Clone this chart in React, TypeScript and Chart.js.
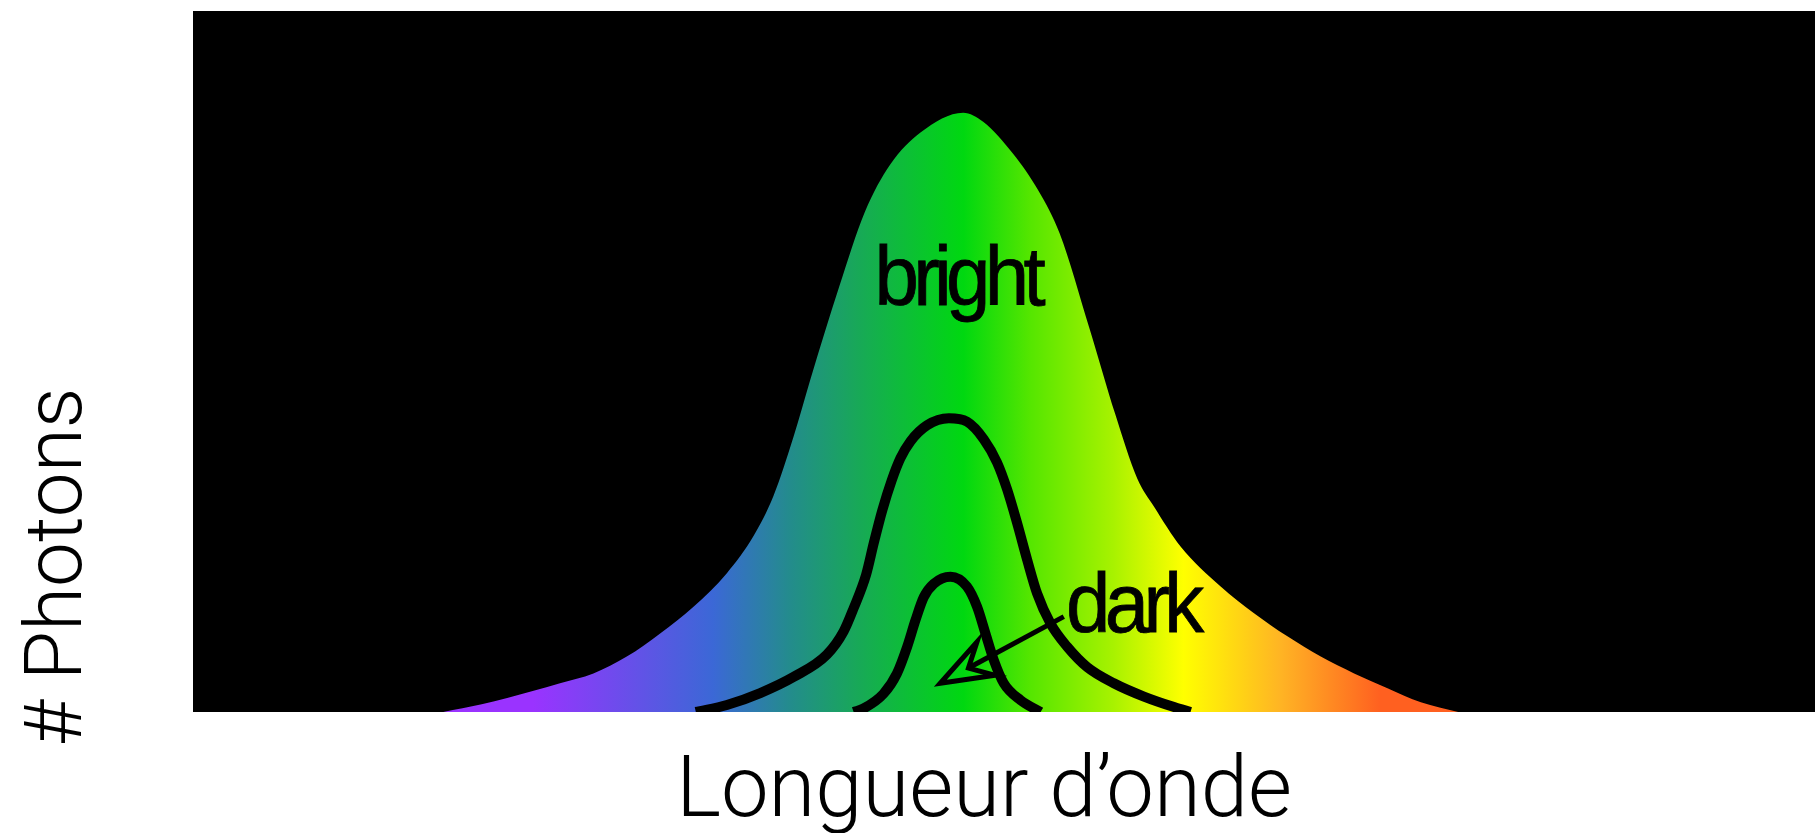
import React, { useEffect, useRef } from "react";
import { Chart, registerables } from "chart.js";

Chart.register(...registerables);

// Axis ranges (wavelength in nm-like units, photon count in arbitrary units)
const wavelengthMin = 200;
const wavelengthMax = 900;
const photonMin = 0;
const photonMax = 100;

// Bright spectrum (filled with rainbow gradient)
const brightX = [308, 324.6, 346.6, 358.4, 372.8, 387.2, 401.6, 416, 430.4, 441.9, 450.5, 459.2, 466.4, 478.9, 489.9, 500.9, 514.1, 532.4, 541, 554, 565, 574, 587, 598, 607.5, 614.7, 626.2, 643.5, 657.9, 672.3, 686.7, 701.1, 715.5, 729.9, 746];
const brightY = [0, 1.1, 3.0, 4.1, 5.5, 7.9, 11.2, 15.0, 19.8, 25.1, 30.8, 39.3, 47.4, 60.7, 71.3, 78.1, 82.7, 85.5, 84.2, 79.6, 74.3, 68.3, 54.6, 42.5, 33.3, 29.3, 23.6, 17.9, 14.1, 10.8, 7.9, 5.5, 3.4, 1.4, 0];

// Medium (dimmer) spectrum outline
const mediumX = [417, 430.4, 444.8, 459.2, 473.6, 480.8, 485.1, 490.5, 493.8, 497.5, 501.5, 505.3, 509.6, 516.8, 526.2, 534.1, 541.3, 547, 551.4, 555.7, 560, 564.3, 570.1, 577.3, 585.9, 597.4, 610.4, 623.4, 630.5];
const mediumY = [0, 1.0, 2.7, 5.0, 8.2, 11.5, 14.8, 19.6, 24.1, 28.8, 33.0, 36.2, 38.6, 40.9, 41.9, 41.4, 38.9, 35.6, 31.7, 26.9, 21.7, 16.9, 12.6, 9.3, 6.4, 4.1, 2.2, 0.7, 0];

// Dark spectrum outline
const darkX = [485.1, 489.4, 498, 503.8, 508.2, 511.8, 515.4, 519.7, 526.9, 534, 538.4, 542, 545.6, 549.9, 557.1, 565.8];
const darkY = [0, 0.5, 2.6, 5.5, 9.3, 13.1, 16.4, 18.3, 19.3, 17.9, 15.0, 11.2, 7.4, 4.1, 1.7, 0];

// Rainbow colour stops along wavelength
const spectrumStops = [346.7, 424.5, 457.8, 486.7, 532.5, 561.4, 597.3, 627.5, 669.4, 712.6];
const spectrumColors = ["#9a33ff", "#3b68d6", "#238c8c", "#18a858", "#00d810", "#55e600", "#a8f200", "#ffff00", "#ffb424", "#ff6020"];

// Texts
const xTitle = "Longueur d\u2019onde";
const yTitle = "# Photons";
const brightLabel = "bright";
const brightLabelAt = [529.8, 58.1];
const darkLabel = "dark";
const darkLabelAt = [576.8, 11.45];
const arrowFrom = [575.8, 13.6];
const arrowTo = [522.5, 4.1];

const toPoints = (xs: number[], ys: number[]) => xs.map((x, i) => ({ x, y: ys[i] }));

const TITLE_FAMILY = "'Helvetica Neue', Roboto, 'Open Sans', sans-serif";
const LABEL_FONT = "84px 'Liberation Sans', Arial, Helvetica, sans-serif";

const drawLabel = (ctx: any, text: string, x: number, y: number, align: string) => {
  ctx.save();
  ctx.translate(x, y);
  ctx.scale(0.95, 1);
  ctx.font = LABEL_FONT;
  (ctx as any).letterSpacing = "-6px";
  ctx.textAlign = align;
  ctx.textBaseline = "alphabetic";
  ctx.fillStyle = "#000000";
  ctx.strokeStyle = "#000000";
  ctx.lineWidth = 0.8;
  ctx.fillText(text, 0, 0);
  ctx.strokeText(text, 0, 0);
  ctx.restore();
};

const decorPlugin = {
  id: "decor",
  beforeDatasetsDraw(chart: any) {
    const { ctx, chartArea } = chart;
    ctx.save();
    ctx.fillStyle = "#000000";
    ctx.fillRect(chartArea.left, chartArea.top, chartArea.right - chartArea.left, chartArea.bottom - chartArea.top);
    ctx.restore();
  },
  afterDatasetsDraw(chart: any) {
    const { ctx, scales } = chart;
    const xs = scales.x;
    const ys = scales.y;
    drawLabel(ctx, brightLabel, xs.getPixelForValue(brightLabelAt[0]), ys.getPixelForValue(brightLabelAt[1]), "center");
    drawLabel(ctx, darkLabel, xs.getPixelForValue(darkLabelAt[0]), ys.getPixelForValue(darkLabelAt[1]), "left");
    // arrow
    const x0 = xs.getPixelForValue(arrowFrom[0]);
    const y0 = ys.getPixelForValue(arrowFrom[1]);
    const x1 = xs.getPixelForValue(arrowTo[0]);
    const y1 = ys.getPixelForValue(arrowTo[1]);
    const dx = x1 - x0;
    const dy = y1 - y0;
    const len = Math.hypot(dx, dy);
    const ux = dx / len;
    const uy = dy / len;
    const nx = -uy;
    const ny = ux;
    const headLen = 52;
    const headHalf = 19;
    const notch = 32;
    ctx.save();
    ctx.strokeStyle = "#000000";
    ctx.lineWidth = 5;
    ctx.lineJoin = "miter";
    ctx.beginPath();
    ctx.moveTo(x0, y0);
    ctx.lineTo(x1 - ux * notch, y1 - uy * notch);
    ctx.stroke();
    ctx.beginPath();
    ctx.moveTo(x1, y1);
    ctx.lineTo(x1 - ux * headLen + nx * headHalf, y1 - uy * headLen + ny * headHalf);
    ctx.lineTo(x1 - ux * notch, y1 - uy * notch);
    ctx.lineTo(x1 - ux * headLen - nx * headHalf, y1 - uy * headLen - ny * headHalf);
    ctx.closePath();
    ctx.stroke();
    ctx.restore();
  },
  afterDraw(chart: any) {
    const { ctx, chartArea } = chart;
    ctx.save();
    ctx.fillStyle = "#000000";
    ctx.textBaseline = "alphabetic";
    ctx.textAlign = "center";
    ctx.font = "300 85px " + TITLE_FAMILY;
    ctx.fillText(xTitle, (chartArea.left + chartArea.right) / 2 - 20, chartArea.bottom + 104);
    ctx.save();
    ctx.translate(81, chartArea.bottom - 145);
    ctx.rotate(-Math.PI / 2);
    ctx.font = "300 80px " + TITLE_FAMILY;
    ctx.textAlign = "center";
    ctx.fillText(yTitle, 0, 0);
    ctx.restore();
    ctx.restore();
  },
};

export default function App() {
  const canvasRef = useRef<HTMLCanvasElement | null>(null);

  useEffect(() => {
    const canvas = canvasRef.current;
    if (!canvas) return;
    const chart = new Chart(canvas, {
      type: "line",
      data: {
        datasets: [
          {
            label: "bright",
            data: toPoints(brightX, brightY),
            borderWidth: 0,
            borderColor: "rgba(0,0,0,0)",
            fill: "origin",
            backgroundColor: (c: any) => {
              const ch = c.chart;
              const { chartArea, scales } = ch;
              if (!chartArea || !scales.x) return spectrumColors[4];
              const a = scales.x.getPixelForValue(spectrumStops[0]);
              const b = scales.x.getPixelForValue(spectrumStops[spectrumStops.length - 1]);
              const g = ch.ctx.createLinearGradient(a, 0, b, 0);
              const span = spectrumStops[spectrumStops.length - 1] - spectrumStops[0];
              spectrumStops.forEach((s, i) => g.addColorStop((s - spectrumStops[0]) / span, spectrumColors[i]));
              return g;
            },
            pointRadius: 0,
            cubicInterpolationMode: "monotone",
            clip: 0,
            order: 3,
          },
          {
            label: "medium",
            data: toPoints(mediumX, mediumY),
            borderWidth: 10,
            borderColor: "#000000",
            fill: false,
            pointRadius: 0,
            cubicInterpolationMode: "monotone",
            borderJoinStyle: "round",
            clip: 0,
            order: 2,
          },
          {
            label: "dark",
            data: toPoints(darkX, darkY),
            borderWidth: 10,
            borderColor: "#000000",
            fill: false,
            pointRadius: 0,
            cubicInterpolationMode: "monotone",
            borderJoinStyle: "round",
            clip: 0,
            order: 1,
          },
        ],
      },
      options: {
        animation: false,
        responsive: false,
        events: [],
        layout: { padding: { left: 193, top: 11, right: 0, bottom: 121 } },
        plugins: { legend: { display: false }, tooltip: { enabled: false }, title: { display: false } },
        scales: {
          x: { type: "linear", min: wavelengthMin, max: wavelengthMax, display: false },
          y: { type: "linear", min: photonMin, max: photonMax, display: false },
        },
      },
      plugins: [decorPlugin],
    } as any);
    return () => chart.destroy();
  }, []);

  return (
    <div style={{ position: "fixed", left: 0, top: 0, width: 1815, height: 833, background: "#ffffff" }}>
      <canvas ref={canvasRef} width={1815} height={833} style={{ display: "block" }} />
    </div>
  );
}
